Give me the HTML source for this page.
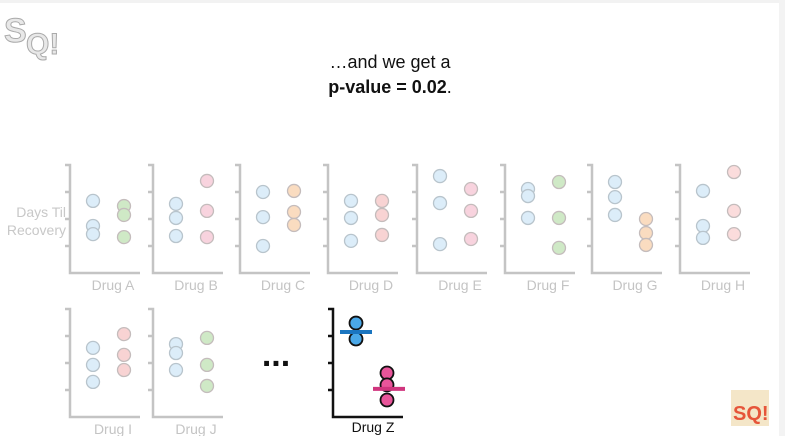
<!DOCTYPE html>
<html><head><meta charset="utf-8"><style>
body{margin:0;background:#fff;width:785px;height:436px;overflow:hidden;font-family:"Liberation Sans",sans-serif}
</style></head><body>
<svg width="785" height="436" style="position:absolute;left:0;top:0">
<rect x="0" y="0" width="785" height="3" fill="#f2f2f2"/>
<rect x="779" y="0" width="6" height="436" fill="#f3f3f3"/>
<g font-family="Liberation Sans" font-weight="bold" fill="#e8e8e8" stroke="#aaa" stroke-width="1">
<text x="4" y="42" font-size="34">S</text><text x="26" y="54" font-size="30">Q!</text>
</g>
<g>
<rect x="731" y="390" width="38" height="36" fill="#f4e6c8"/>
<text x="733" y="420" font-size="20" font-weight="bold" fill="#e6553a" font-family="Liberation Sans">SQ!</text>
</g>
<text x="390" y="68" text-anchor="middle" font-size="18" fill="#111">…and we get a</text>
<text x="390" y="93" text-anchor="middle" font-size="18" fill="#111"><tspan font-weight="bold">p-value = 0.02</tspan>.</text>
<text x="66" y="217" text-anchor="end" font-size="14" fill="#c8c8c8">Days Til</text>
<text x="66" y="235" text-anchor="end" font-size="14" fill="#c8c8c8">Recovery</text>
<text x="276" y="366" text-anchor="middle" font-size="34" font-weight="bold" fill="#111">...</text>
<g id="plots"></g>
</svg>
<script>
const drugs=["A","B","C","D","E","F","G","H","I","J"];
const blueVals=[[2.67,1.74,1.44],[2.56,2.04,1.37],[3.0,2.07,1.0],[2.67,2.04,1.19],[3.59,2.59,1.07],[3.11,2.85,2.04],[3.37,2.81,2.15],[3.04,1.74,1.30],[2.56,1.93,1.30],[2.7,2.37,1.74]];
const otherVals=[[2.48,2.15,1.33],[3.41,2.3,1.33],[3.04,2.26,1.78],[2.67,2.15,1.41],[3.11,2.3,1.26],[3.37,2.04,0.93],[2.0,1.48,1.04],[3.74,2.3,1.44],[3.07,2.3,1.74],[2.93,1.93,1.15]];
const otherColors=["#cfe9c6","#f8d3de","#fadcc0","#f8d3d3","#f8d3de","#cfe9c6","#fadcc0","#fbdcdc","#f8d3d3","#cfe9c6"];
const zBlue=[3.48,2.89];
const zPink=[1.63,1.19,0.63];
const zBlueMean=3.15;
const zPinkMean=1.04;
const NS="http://www.w3.org/2000/svg";
const g=document.getElementById('plots');
const axisX=[70,153,240,328,417,505,592,680,70,153];
const bottoms=[273,273,273,273,273,273,273,273,417,417];
const U=27;
function mk(t,a){const e=document.createElementNS(NS,t);for(const k in a)e.setAttribute(k,a[k]);g.appendChild(e);return e;}
function yv(b,v){return b-v*U;}
function axes(x,b,col,w,name){
  const l=mk('path',{d:`M${x-5} ${b-4*U}H${x}V${b}H${x+70}`,stroke:col,'stroke-width':w,fill:'none'});
  
  
  for(let k=1;k<4;k++){const t=mk('line',{x1:x-5,x2:x,y1:b-k*U,y2:b-k*U,stroke:col,'stroke-width':w});
    
    }
}
drugs.forEach((d,i)=>{
  const x=axisX[i],b=bottoms[i],name='drug-'+d.toLowerCase();
  axes(x,b,'#c4c4c4',2.5,name);
  blueVals[i].forEach(v=>{const c=mk('circle',{cx:x+23,cy:yv(b,v),r:6.5,fill:'#dcedf9',stroke:'#b8c4cc','stroke-width':1.3});
    
    });
  otherVals[i].forEach(v=>{const c=mk('circle',{cx:x+54,cy:yv(b,v),r:6.5,fill:otherColors[i],stroke:'#c4bcbc','stroke-width':1.3});
    
    });
  const t=mk('text',{x:x+43,y:b+17,'text-anchor':'middle','font-size':14,fill:'#c4c4c4'});
  t.textContent='Drug '+d;
  
  
});
const zx=333,zb=417;
axes(zx,zb,'#111',2.5,'drug-z');
zBlue.forEach(v=>{const c=mk('circle',{cx:356,cy:yv(zb,v),r:6.5,fill:'#4aa8e8',stroke:'#111','stroke-width':1.8});
  
  });
zPink.forEach(v=>{const c=mk('circle',{cx:387,cy:yv(zb,v),r:6.5,fill:'#e8559a',stroke:'#111','stroke-width':1.8});
  
  });
const m1=mk('line',{x1:340,x2:372,y1:yv(zb,zBlueMean),y2:yv(zb,zBlueMean),stroke:'#1a75c0','stroke-width':4});


const m2=mk('line',{x1:373,x2:405,y1:yv(zb,zPinkMean),y2:yv(zb,zPinkMean),stroke:'#d0357e','stroke-width':4});


const zt=mk('text',{x:373,y:432,'text-anchor':'middle','font-size':14,fill:'#111'});
zt.textContent='Drug Z';


</script>
</body></html>
